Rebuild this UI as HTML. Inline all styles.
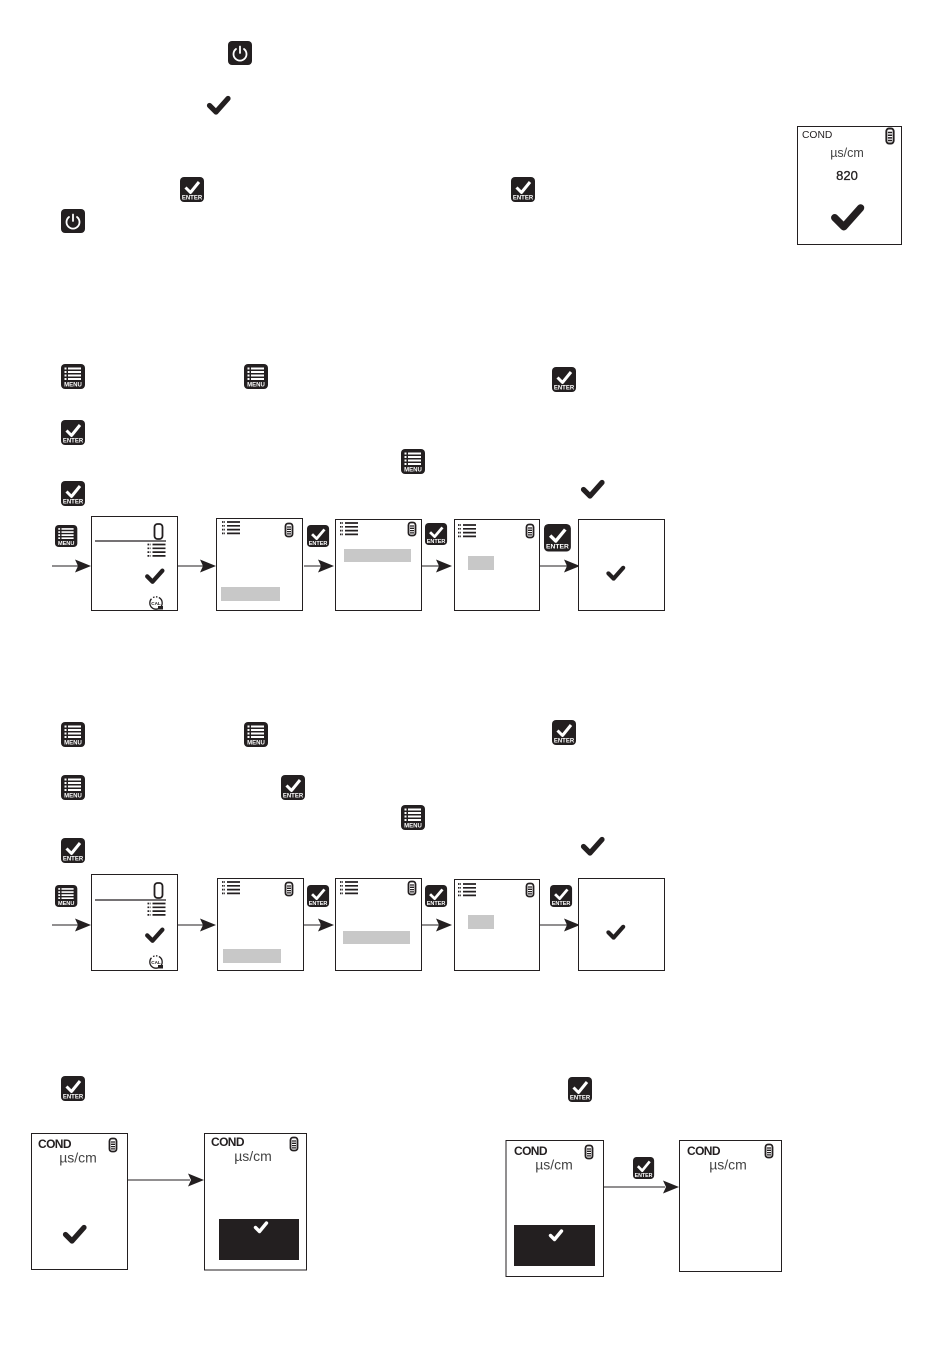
<!DOCTYPE html>
<html><head><meta charset="utf-8"><style>
html,body{margin:0;padding:0;background:#fff}
svg{display:block}
text{font-family:"Liberation Sans",sans-serif;fill:#231f20}
</style></head><body>
<svg width="950" height="1363" viewBox="0 0 950 1363" xmlns="http://www.w3.org/2000/svg">
<defs>
<g id="chk"><path d="M-9.5 0.5 L-3 7 L9 -6.5" fill="none" stroke="#231f20" stroke-width="5.2" stroke-linecap="round" stroke-linejoin="round"/></g>
<g id="wchk"><path d="M-5.5 0.5 L-1.5 4.5 L5.5 -4" fill="none" stroke="#fff" stroke-width="3.4" stroke-linecap="round" stroke-linejoin="round"/></g>
<g id="menu"><rect width="24" height="25" rx="4" fill="#231f20"/>
<path d="M7 4.5H20M7 8H20M7 11.5H20M7 15H20" stroke="#fff" stroke-width="1.9"/>
<path d="M3.5 4.5H5.5M3.5 8H5.5M3.5 11.5H5.5M3.5 15H5.5" stroke="#fff" stroke-width="1.9"/>
<text x="12" y="22.5" text-anchor="middle" font-size="6" font-weight="bold" style="fill:#fff">MENU</text></g>
<g id="enter"><rect width="24" height="25" rx="4" fill="#231f20"/>
<path d="M5.5 10.5L10.5 15.5L19 5" fill="none" stroke="#fff" stroke-width="3" stroke-linejoin="round"/>
<text x="12" y="22.5" text-anchor="middle" font-size="6" font-weight="bold" style="fill:#fff">ENTER</text></g>
<g id="power"><rect width="24" height="24" rx="4" fill="#231f20"/>
<path d="M8 8 A6.5 6.5 0 1 0 16 8" fill="none" stroke="#fff" stroke-width="1.8" stroke-linecap="round"/>
<path d="M12 5.5V12" stroke="#fff" stroke-width="1.8" stroke-linecap="round"/></g>
<g id="bat"><rect x="-3.5" y="-6.5" width="7" height="13" rx="2.5" fill="#fff" stroke="#231f20" stroke-width="1.8"/>
<path d="M-2 -3H2M-2 -0.7H2M-2 1.6H2M-2 3.9H2" stroke="#231f20" stroke-width="1.3"/></g>
<g id="list"><path d="M5 1H18M5 4.8H18M5 8.6H18M5 12.4H18" stroke="#231f20" stroke-width="1.7"/>
<path d="M0 1H3M0 4.8H3M0 8.6H3M0 12.4H3" stroke="#231f20" stroke-width="1.7" stroke-dasharray="1.5 .7"/></g>
<g id="mainmenu">
<path d="M4 25H75" stroke="#231f20" stroke-width="1.2" fill="none"/>
<rect x="63.5" y="8" width="8" height="15" rx="3" fill="#fff" stroke="#231f20" stroke-width="1.8"/>
<use href="#list" x="56.5" y="27.5"/>
<use href="#chk" transform="translate(64,60) scale(.82)"/>
<circle cx="65" cy="87" r="6.2" fill="#fff" stroke="#231f20" stroke-width="1.3" stroke-dasharray="24 2 1.5 1.5 1.5 1.5"/>
<path d="M67 90l5 0l0 3.5l-5 0z" fill="#231f20"/>
<text x="65" y="89" text-anchor="middle" font-size="4.6" font-weight="bold">CAL</text>
</g>
<path id="ah" d="M-16 -6.5 L0 0 L-16 6.5 L-13 0Z" fill="#231f20"/>
</defs>
<rect width="950" height="1363" fill="#fff"/>

<!-- top icons -->
<use href="#power" x="228" y="41"/>
<use href="#chk" x="219" y="105"/>
<use href="#enter" x="180" y="177"/>
<use href="#enter" x="511" y="177"/>
<use href="#power" x="61" y="209"/>

<!-- top display -->
<rect x="797.5" y="126.5" width="104" height="118" fill="#fff" stroke="#231f20"/>
<text x="802" y="138" font-size="10.3">COND</text>
<use href="#bat" transform="translate(890,136) scale(1.05,1.15)"/>
<text x="847" y="157" font-size="12.5" text-anchor="middle" style="fill:#444">µs/cm</text>
<text x="847" y="180" font-size="13" text-anchor="middle" stroke="#231f20" stroke-width=".3">820</text>
<use href="#chk" transform="translate(848,217) scale(1.4)"/>

<!-- section 1 icons -->
<use href="#menu" x="61" y="364"/>
<use href="#menu" x="244" y="364"/>
<use href="#enter" x="552" y="367"/>
<use href="#enter" x="61" y="420"/>
<use href="#menu" x="401" y="449"/>
<use href="#enter" x="61" y="481"/>
<use href="#chk" x="593" y="489"/>

<!-- row 1 -->
<use href="#menu" transform="translate(55,525) scale(.93,.88)"/>
<path d="M52 566H78" stroke="#231f20" stroke-width="1.1"/><use href="#ah" x="91" y="566"/>
<rect x="91.5" y="516.5" width="86" height="94" fill="#fff" stroke="#231f20"/>
<g transform="translate(91,516)"><use href="#mainmenu"/></g>
<path d="M178 566H203" stroke="#231f20" stroke-width="1.1"/><use href="#ah" x="216" y="566"/>
<rect x="216.5" y="518.5" width="86" height="92" fill="#fff" stroke="#231f20"/>
<use href="#list" x="222" y="521"/><use href="#bat" x="289" y="530"/>
<rect x="221" y="587" width="59" height="14" fill="#c8c8c8"/>
<use href="#enter" transform="translate(307,525) scale(.92,.88)"/>
<path d="M304 566H321" stroke="#231f20" stroke-width="1.1"/><use href="#ah" x="334" y="566"/>
<rect x="335.5" y="519.5" width="86" height="91" fill="#fff" stroke="#231f20"/>
<use href="#list" x="340" y="522"/><use href="#bat" x="412" y="529"/>
<rect x="344" y="549" width="67" height="13" fill="#c8c8c8"/>
<use href="#enter" transform="translate(425,523) scale(.92,.88)"/>
<path d="M422 566H439" stroke="#231f20" stroke-width="1.1"/><use href="#ah" x="452" y="566"/>
<rect x="454.5" y="519.5" width="85" height="91" fill="#fff" stroke="#231f20"/>
<use href="#list" x="458" y="524"/><use href="#bat" x="530" y="531"/>
<rect x="468" y="556" width="26" height="14" fill="#c8c8c8"/>
<use href="#enter" transform="translate(544,524) scale(1.12,1.1)"/>
<path d="M540 566H567" stroke="#231f20" stroke-width="1.1"/><use href="#ah" x="580" y="566"/>
<rect x="578.5" y="519.5" width="86" height="91" fill="#fff" stroke="#231f20"/>
<use href="#chk" transform="translate(616,573) scale(.8)"/>

<!-- section 2 icons -->
<use href="#menu" x="61" y="722"/>
<use href="#menu" x="244" y="722"/>
<use href="#enter" x="552" y="720"/>
<use href="#menu" x="61" y="775"/>
<use href="#enter" x="281" y="775"/>
<use href="#menu" x="401" y="805"/>
<use href="#enter" x="61" y="838"/>
<use href="#chk" x="593" y="846"/>

<!-- row 2 -->
<use href="#menu" transform="translate(55,885) scale(.93,.88)"/>
<path d="M52 925H78" stroke="#231f20" stroke-width="1.1"/><use href="#ah" x="91" y="925"/>
<rect x="91.5" y="874.5" width="86" height="96" fill="#fff" stroke="#231f20"/>
<g transform="translate(91,875)"><use href="#mainmenu"/></g>
<path d="M178 925H203" stroke="#231f20" stroke-width="1.1"/><use href="#ah" x="216" y="925"/>
<rect x="217.5" y="878.5" width="86" height="92" fill="#fff" stroke="#231f20"/>
<use href="#list" x="222" y="881"/><use href="#bat" x="289" y="889"/>
<rect x="223" y="949" width="58" height="14" fill="#c8c8c8"/>
<use href="#enter" transform="translate(307,885) scale(.92,.88)"/>
<path d="M304 925H321" stroke="#231f20" stroke-width="1.1"/><use href="#ah" x="334" y="925"/>
<rect x="335.5" y="878.5" width="86" height="92" fill="#fff" stroke="#231f20"/>
<use href="#list" x="340" y="881"/><use href="#bat" x="412" y="888"/>
<rect x="343" y="931" width="67" height="13" fill="#c8c8c8"/>
<use href="#enter" transform="translate(425,885) scale(.92,.88)"/>
<path d="M422 925H439" stroke="#231f20" stroke-width="1.1"/><use href="#ah" x="452" y="925"/>
<rect x="454.5" y="879.5" width="85" height="91" fill="#fff" stroke="#231f20"/>
<use href="#list" x="458" y="883"/><use href="#bat" x="530" y="890"/>
<rect x="468" y="915" width="26" height="14" fill="#c8c8c8"/>
<use href="#enter" transform="translate(550,885) scale(.92,.88)"/>
<path d="M540 925H567" stroke="#231f20" stroke-width="1.1"/><use href="#ah" x="580" y="925"/>
<rect x="578.5" y="878.5" width="86" height="92" fill="#fff" stroke="#231f20"/>
<use href="#chk" transform="translate(616,932) scale(.8)"/>

<!-- section 3 -->
<use href="#enter" x="61" y="1076"/>
<use href="#enter" x="568" y="1077"/>

<rect x="31.5" y="1133.5" width="96" height="136" fill="#fff" stroke="#231f20"/>
<text x="38" y="1148" font-size="12" font-weight="bold" letter-spacing="-.6">COND</text>
<use href="#bat" x="113" y="1145"/>
<text x="78" y="1162.5" font-size="14" text-anchor="middle" style="fill:#444">µs/cm</text>
<use href="#chk" transform="translate(75,1234)"/>
<path d="M128 1180H190" stroke="#231f20" stroke-width="1.1"/><use href="#ah" x="204" y="1180"/>
<rect x="204.5" y="1133.5" width="102" height="136.5" fill="#fff" stroke="#231f20"/>
<text x="211" y="1146" font-size="12" font-weight="bold" letter-spacing="-.6">COND</text>
<use href="#bat" x="294" y="1144"/>
<text x="253" y="1161" font-size="14" text-anchor="middle" style="fill:#444">µs/cm</text>
<rect x="219" y="1219" width="80" height="41" fill="#231f20"/>
<use href="#wchk" x="261" y="1227"/>

<rect x="506" y="1140.5" width="97.5" height="136" fill="#fff" stroke="#231f20"/>
<text x="514" y="1155" font-size="12" font-weight="bold" letter-spacing="-.6">COND</text>
<use href="#bat" x="589" y="1152"/>
<text x="554" y="1169.5" font-size="14" text-anchor="middle" style="fill:#444">µs/cm</text>
<rect x="514" y="1225" width="81" height="41" fill="#231f20"/>
<use href="#wchk" x="556" y="1235"/>
<use href="#enter" transform="translate(633,1157) scale(.88,.88)"/>
<path d="M604 1187H665" stroke="#231f20" stroke-width="1.1"/><use href="#ah" x="679" y="1187"/>
<rect x="679.5" y="1140.5" width="102" height="131" fill="#fff" stroke="#231f20"/>
<text x="687" y="1155" font-size="12" font-weight="bold" letter-spacing="-.6">COND</text>
<use href="#bat" x="769" y="1151"/>
<text x="728" y="1169.5" font-size="14" text-anchor="middle" style="fill:#444">µs/cm</text>
</svg>
</body></html>
